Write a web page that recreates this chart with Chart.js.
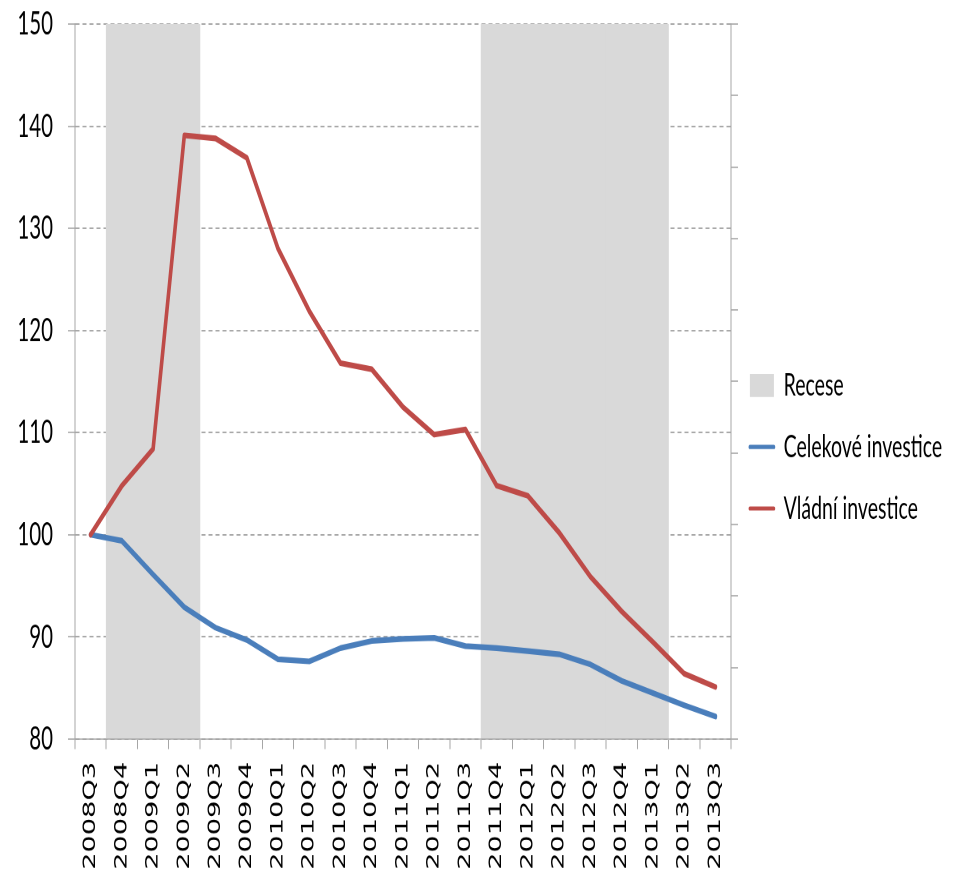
<!DOCTYPE html>
<html>
<head>
<meta charset="utf-8">
<script src="https://cdn.jsdelivr.net/npm/chart.js@4/dist/chart.umd.min.js"></script>
<style>
html,body{margin:0;padding:0;background:#fff;overflow:hidden}
canvas{display:block}
</style>
</head>
<body>
<canvas id="c" width="961" height="557" style="width:961px;height:892px"></canvas>
<script>
// ---- data ----
const categories = ['2008Q3','2008Q4','2009Q1','2009Q2','2009Q3','2009Q4','2010Q1','2010Q2','2010Q3','2010Q4',
  '2011Q1','2011Q2','2011Q3','2011Q4','2012Q1','2012Q2','2012Q3','2012Q4','2013Q1','2013Q2','2013Q3'];
const celkoveInvestice = [100.0, 99.4, 96.1, 92.9, 90.9, 89.7, 87.8, 87.6, 88.9, 89.6,
  89.8, 89.9, 89.1, 88.9, 88.6, 88.3, 87.3, 85.7, 84.5, 83.3, 82.2];
const vladniInvestice = [100.0, 104.8, 108.4, 139.1, 138.8, 136.9, 128.0, 121.9, 116.8, 116.2,
  112.5, 109.8, 110.3, 104.8, 103.8, 100.2, 95.9, 92.5, 89.5, 86.4, 85.1];
const recese = [null, 150, 150, 150, null, null, null, null, null, null,
  null, null, null, 150, 150, 150, 150, 150, 150, null, null];
const seriesNames = ['Recese', 'Celekové investice', 'Vládní investice'];
const yMin = 80, yMax = 150, yStep = 10;

// ---- geometry (logical canvas is stretched vertically to the 892px picture) ----
const W = 961, H = 557, H_OUT = 892;
const SY = H_OUT / H;
const py = v => v / SY;

const legendFontSize = 19.5, legendPad = 18.9, legendBoxW = 24;
const mctx = document.createElement('canvas').getContext('2d');
mctx.font = 'normal ' + legendFontSize + 'px Lato';
const maxTextW = Math.max(...seriesNames.map(t => mctx.measureText(t).width));
const AREA_RIGHT = 731;
const legendWidth = legendPad + legendBoxW + legendFontSize / 2 + maxTextW + 10;
const padRight = W - AREA_RIGHT - legendWidth;
const padTop = py(24);
const padBottom = 13.8;
const xAxisH = H - padBottom - py(739);

const grey = '#a6a6a6';

new Chart(document.getElementById('c'), {
  type: 'bar',
  data: {
    labels: categories,
    datasets: [
      { type: 'bar', label: seriesNames[0], data: recese, backgroundColor: '#d9d9d9', borderWidth: 0,
        barPercentage: 1, categoryPercentage: 1, order: 3, pointStyle: 'rect', yAxisID: 'y' },
      { type: 'line', label: seriesNames[1], data: celkoveInvestice, borderColor: '#4a7ebb', backgroundColor: '#4a7ebb',
        borderWidth: 3.6, pointRadius: 0, tension: 0, borderCapStyle: 'round', borderJoinStyle: 'round',
        pointStyle: 'line', order: 2, fill: false, yAxisID: 'y' },
      { type: 'line', label: seriesNames[2], data: vladniInvestice, borderColor: '#be4b48', backgroundColor: '#be4b48',
        borderWidth: 3.6, pointRadius: 0, tension: 0, borderCapStyle: 'round', borderJoinStyle: 'round',
        pointStyle: 'line', order: 1, fill: false, yAxisID: 'y' }
    ]
  },
  options: {
    responsive: false,
    animation: false,
    devicePixelRatio: 2,
    layout: { padding: { left: 17, right: padRight, top: padTop, bottom: padBottom } },
    plugins: {
      tooltip: { enabled: false },
      legend: {
        position: 'right',
        align: 'center',
        maxWidth: 400,
        labels: {
          usePointStyle: true,
          pointStyleWidth: legendBoxW,
          boxHeight: py(23),
          padding: legendPad,
          color: '#000',
          font: { family: 'Lato', size: legendFontSize },
          sort: (a, b) => a.datasetIndex - b.datasetIndex,
          generateLabels: (chart) => {
            const items = Chart.defaults.plugins.legend.labels.generateLabels(chart);
            items.forEach(it => { if (it.pointStyle === 'line') { it.lineWidth = 2.6; it.lineCap = 'round'; } });
            return items;
          }
        }
      }
    },
    scales: {
      x: {
        type: 'category',
        offset: true,
        grid: { offset: true, drawOnChartArea: false, color: grey, lineWidth: 1, tickLength: py(10) },
        border: { color: grey, width: py(1.3), z: 1 },
        ticks: { autoSkip: false, maxRotation: 90, minRotation: 90, padding: 8, color: '#000',
          font: { family: 'DejaVu Sans', size: 17 } },
        afterFit: s => { s.height = xAxisH; }
      },
      y: {
        position: 'left',
        min: yMin, max: yMax,
        ticks: { stepSize: yStep, padding: 15, color: '#000', font: { family: 'Lato', size: 20.5 } },
        grid: { color: '#8c8c8c', lineWidth: py(1.3), tickLength: 7, tickColor: grey, tickBorderDash: [] },
        border: { color: grey, width: 1, dash: [4, 3] },
        afterFit: s => { s.width = 58; s.paddingTop = 0; s.paddingBottom = 0; }
      },
      y2: {
        position: 'right',
        min: 0, max: 10,
        ticks: { stepSize: 1, display: false },
        grid: { drawOnChartArea: false, tickLength: 7, color: grey, lineWidth: py(1.3) },
        border: { color: grey, width: 1 },
        afterFit: s => { s.width = 0; s.paddingTop = 0; s.paddingBottom = 0; }
      }
    }
  }
});
</script>
</body>
</html>
